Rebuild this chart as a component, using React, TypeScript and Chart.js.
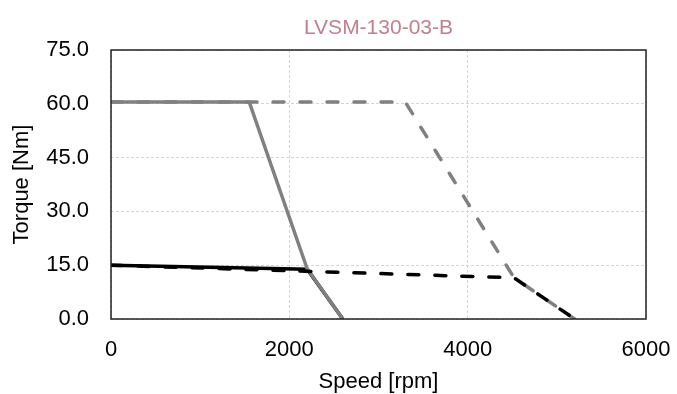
import React, { useEffect, useRef } from "react";
import { Chart, registerables } from "chart.js";
Chart.register(...registerables);

const titleText = "LVSM-130-03-B";
const xTitle = "Speed [rpm]";
const yTitle = "Torque [Nm]";

const graySolidX = [0, 1550, 2200, 2600];
const graySolidY = [60.5, 60.5, 14, 0];
const grayDashX = [0, 3300, 4520, 5200];
const grayDashY = [60.5, 60.5, 11.5, 0];
const blackSolidX = [0, 2200, 2600];
const blackSolidY = [15, 13.9, 0];
const blackDashX = [0, 4520, 5200];
const blackDashY = [15, 11.5, 0];

const toPts = (xs: number[], ys: number[]) => xs.map((x, i) => ({ x, y: ys[i] }));

const frame = {
  id: "frame",
  afterDatasetsDraw(chart: any) {
    const { ctx, chartArea: a } = chart;
    ctx.save();
    ctx.strokeStyle = "#222";
    ctx.lineWidth = 1.5;
    ctx.strokeRect(a.left, a.top, a.right - a.left, a.bottom - a.top);
    ctx.restore();
  },
};

export default function App() {
  const ref = useRef<HTMLCanvasElement>(null);
  useEffect(() => {
    document.body.style.margin = "0";
    const family = "'Liberation Sans', Arial, sans-serif";
    const f22 = { family, size: 22, lineHeight: 1 };
    const ds = (xs: number[], ys: number[], color: string, dash: number[]) => ({
      data: toPts(xs, ys),
      showLine: true,
      borderColor: color,
      backgroundColor: color,
      borderWidth: 3.5,
      borderDash: dash,
      borderCapStyle: dash.length ? "round" : "butt",
      pointRadius: 0,
      tension: 0,
    });
    const chart = new Chart(ref.current!, {
      type: "scatter",
      data: {
        datasets: [
          ds(blackDashX, blackDashY, "#000000", [11, 16]),
          ds(grayDashX, grayDashY, "#808080", [11, 16]),
          ds(graySolidX, graySolidY, "#808080", []),
          ds(blackSolidX, blackSolidY, "#000000", []),
        ] as any,
      },
      options: {
        animation: false,
        responsive: false,
        layout: { padding: { left: 0, right: 0, top: 0, bottom: 0 } },
        plugins: {
          legend: { display: false },
          tooltip: { enabled: false },
          title: {
            display: true,
            fullSize: false,
            text: titleText,
            color: "#c0808c",
            font: { family, size: 21, weight: "normal", lineHeight: 1 },
            padding: { top: 18, bottom: 11 },
          },
        },
        scales: {
          x: {
            type: "linear",
            min: 0,
            max: 6000,
            afterFit: (s: any) => {
              s.height = 75;
              s.paddingRight = 31;
            },
            ticks: {
              stepSize: 2000,
              color: "#000",
              font: f22,
              padding: 20,
              maxRotation: 0,
              callback: (v: any) => String(v),
            },
            grid: { color: "#d4d4d4", lineWidth: 1, drawTicks: false },
            border: { display: false, dash: [3, 2] },
            title: { display: true, text: xTitle, color: "#000", font: f22, padding: { top: 0, bottom: 1 } },
          },
          y: {
            type: "linear",
            min: 0,
            max: 75,
            afterFit: (s: any) => {
              s.width = 111;
            },
            ticks: {
              stepSize: 15,
              color: "#000",
              font: f22,
              padding: 22,
              callback: (v: any) => Number(v).toFixed(1),
            },
            grid: { color: "#d4d4d4", lineWidth: 1, drawTicks: false },
            border: { display: false, dash: [3, 2] },
            title: { display: true, text: yTitle, color: "#000", font: f22, padding: { top: 11, bottom: 0 } },
          },
        },
      },
      plugins: [frame],
    } as any);
    return () => chart.destroy();
  }, []);
  return <canvas ref={ref} width={677} height={394} style={{ display: "block" }} />;
}
